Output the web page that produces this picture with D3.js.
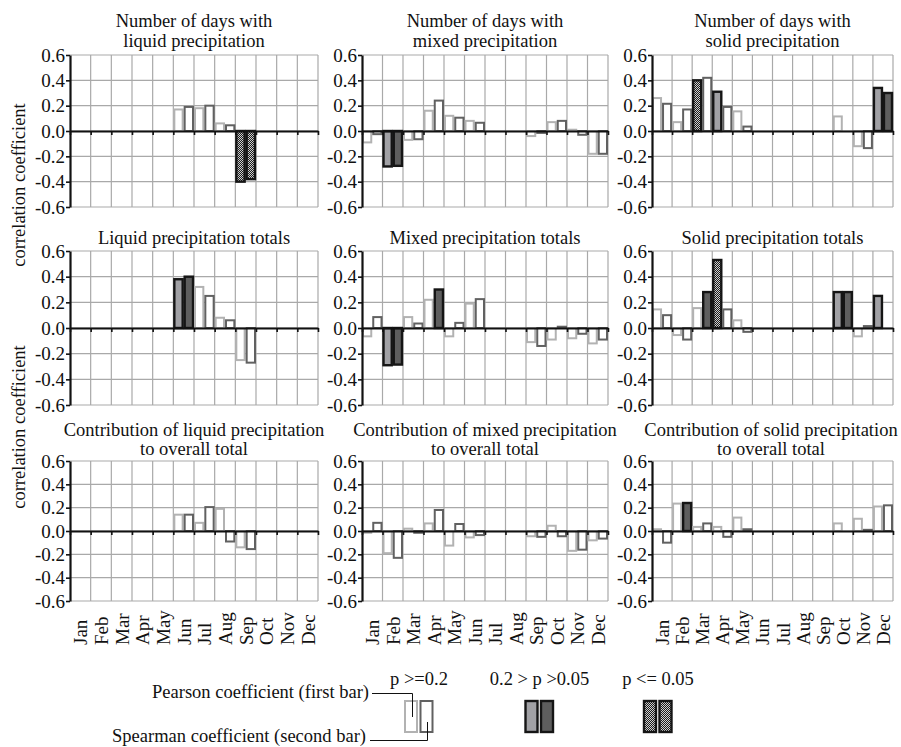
<!DOCTYPE html>
<html lang="en">
<head>
<meta charset="UTF-8">
<script src="https://d3js.org/d3.v7.min.js"></script>
<title>Correlation coefficients</title>
<style>
  body { margin: 0; background: #fff; }
  text { font-family: 'Liberation Serif', 'Times New Roman', serif; fill: #111; }
</style>
</head>
<body>
<div id="chart"></div>
<script>

const months = ["Jan", "Feb", "Mar", "Apr", "May", "Jun", "Jul", "Aug", "Sep", "Oct", "Nov", "Dec"]
const series = ["pearson", "spearman"]
const yTicks = [-0.6, -0.4, -0.2, 0, 0.2, 0.4, 0.6]

const panelTitles = [
    ["Number of days with", "liquid precipitation"],
    ["Number of days with", "mixed precipitation"],
    ["Number of days with", "solid precipitation"],
    ["Liquid precipitation totals"],
    ["Mixed precipitation totals"],
    ["Solid precipitation totals"],
    ["Contribution of liquid precipitation", "to overall total"],
    ["Contribution of mixed precipitation", "to overall total"],
    ["Contribution of solid precipitation", "to overall total"]
]

// first bar of each month, one row per panel (null = no bar)
const pearson = [
    [null, null, null, null, null, 0.17, 0.18, 0.06, -0.40, null, null, null],
    [-0.09, -0.28, -0.07, 0.16, 0.12, 0.08, null, null, -0.04, 0.07, 0.01, -0.18],
    [0.26, 0.07, 0.40, 0.31, 0.155, null, null, null, null, 0.115, -0.12, 0.34],
    [null, null, null, null, null, 0.38, 0.32, 0.08, -0.25, null, null, null],
    [-0.065, -0.29, 0.085, 0.22, -0.065, 0.19, null, null, -0.11, -0.09, -0.08, -0.12],
    [0.145, -0.055, 0.155, 0.53, 0.06, null, null, null, null, 0.28, -0.065, 0.25],
    [null, null, null, null, null, 0.14, 0.07, 0.19, -0.14, null, null, null],
    [-0.015, -0.19, 0.02, 0.065, -0.125, -0.055, null, null, -0.045, 0.045, -0.17, -0.08],
    [0.015, 0.235, 0.035, 0.035, 0.115, null, null, null, null, 0.065, 0.105, 0.21]
]

// second bar of each month
const spearman = [
    [null, null, null, null, null, 0.19, 0.20, 0.045, -0.38, null, null, null],
    [-0.025, -0.275, -0.065, 0.24, 0.105, 0.065, null, null, -0.015, 0.08, -0.03, -0.18],
    [0.215, 0.17, 0.42, 0.19, 0.035, null, null, null, null, null, -0.135, 0.30],
    [null, null, null, null, null, 0.40, 0.25, 0.06, -0.27, null, null, null],
    [0.085, -0.285, 0.035, 0.30, 0.04, 0.225, null, null, -0.14, 0.01, -0.045, -0.09],
    [0.10, -0.09, 0.28, 0.145, -0.03, null, null, null, null, 0.28, 0.015, null],
    [null, null, null, null, null, 0.14, 0.205, -0.09, -0.155, null, null, null],
    [0.07, -0.23, -0.015, 0.18, 0.06, -0.035, null, null, -0.05, -0.045, -0.16, -0.065],
    [-0.10, 0.24, 0.065, -0.05, 0.015, null, null, null, null, null, 0.01, 0.22]
]

// significance: 0 = p >= 0.2, 1 = 0.2 > p > 0.05, 2 = p <= 0.05
const pearsonSig = [
    [0, 0, 0, 0, 0, 0, 0, 0, 2, 0, 0, 0],
    [0, 1, 0, 0, 0, 0, 0, 0, 0, 0, 0, 0],
    [0, 0, 2, 1, 0, 0, 0, 0, 0, 0, 0, 1],
    [0, 0, 0, 0, 0, 1, 0, 0, 0, 0, 0, 0],
    [0, 1, 0, 0, 0, 0, 0, 0, 0, 0, 0, 0],
    [0, 0, 0, 2, 0, 0, 0, 0, 0, 1, 0, 1],
    [0, 0, 0, 0, 0, 0, 0, 0, 0, 0, 0, 0],
    [0, 0, 0, 0, 0, 0, 0, 0, 0, 0, 0, 0],
    [0, 0, 0, 0, 0, 0, 0, 0, 0, 0, 0, 0]
]
const spearmanSig = [
    [0, 0, 0, 0, 0, 0, 0, 0, 2, 0, 0, 0],
    [0, 1, 0, 0, 0, 0, 0, 0, 0, 0, 0, 0],
    [0, 0, 0, 0, 0, 0, 0, 0, 0, 0, 0, 1],
    [0, 0, 0, 0, 0, 1, 0, 0, 0, 0, 0, 0],
    [0, 1, 0, 1, 0, 0, 0, 0, 0, 0, 0, 0],
    [0, 0, 1, 0, 0, 0, 0, 0, 0, 1, 0, 0],
    [0, 0, 0, 0, 0, 0, 0, 0, 0, 0, 0, 0],
    [0, 0, 0, 0, 0, 0, 0, 0, 0, 0, 0, 0],
    [0, 1, 0, 0, 0, 0, 0, 0, 0, 0, 0, 0]
]

const legendLabels = ["p >=0.2", "0.2 > p >0.05", "p <= 0.05"]

// layout
const width = 901, height = 747
const colLeft = [70, 362, 652], colRight = [318, 608, 893]
const rowTop = [55, 251, 461], rowBottom = [207, 405, 601]
const titleBase = [[27, 47], [244], [436, 455]]
const fs = 19, titleFs = 18.5

const strokeCol = { pearson: "#b2b2b2", spearman: "#616161" }
const sigFill = { pearson: "#a1a1a5", spearman: "#5e5e5e" }

function barFill(s, sig) { return sig === 2 ? "url(#chk)" : sig === 1 ? sigFill[s] : "#fff" }
function barStroke(s, sig) { return sig === 0 ? strokeCol[s] : "#151515" }

let svg = d3.select("#chart").append("svg").attr("width", width).attr("height", height)

let pat = svg.append("defs").append("pattern").attr("id", "chk")
    .attr("width", 2).attr("height", 2).attr("patternUnits", "userSpaceOnUse")
pat.append("rect").attr("width", 2).attr("height", 2).attr("fill", "#1c1c1c")
pat.append("rect").attr("width", 1).attr("height", 1).attr("fill", "#cfcfcf")
pat.append("rect").attr("x", 1).attr("y", 1).attr("width", 1).attr("height", 1).attr("fill", "#cfcfcf")

panelTitles.forEach((title, i) => {
    let r = Math.floor(i / 3), c = i % 3
    let x = d3.scaleBand().domain(months).range([colLeft[c], colRight[c]])
    let xs = d3.scaleBand().domain(series).range([0, x.bandwidth()])
    let xb = d3.scaleLinear().domain([0, 12]).range([colLeft[c], colRight[c]])
    let y = d3.scaleLinear().domain([-0.6, 0.6]).range([rowBottom[r], rowTop[r]])
    let g = svg.append("g")

    // grid
    g.append("g").selectAll("line").data(yTicks).enter().append("line")
        .attr("x1", colLeft[c]).attr("x2", colRight[c])
        .attr("y1", d => y(d)).attr("y2", d => y(d))
        .attr("stroke", "#a9a9a9").attr("stroke-width", 1.2)
    g.append("g").selectAll("line").data(d3.range(1, 13)).enter().append("line")
        .attr("x1", d => xb(d)).attr("x2", d => xb(d))
        .attr("y1", y(0.6)).attr("y2", y(-0.6))
        .attr("stroke", "#a9a9a9").attr("stroke-width", 1.2)

    // bars
    let bars = []
    months.forEach((m, k) => {
        bars.push({ m: m, s: "pearson", v: pearson[i][k], sig: pearsonSig[i][k] })
        bars.push({ m: m, s: "spearman", v: spearman[i][k], sig: spearmanSig[i][k] })
    })
    g.append("g").selectAll("rect").data(bars.filter(d => d.v !== null)).enter().append("rect")
        .attr("x", d => x(d.m) + xs(d.s) + 1)
        .attr("width", xs.bandwidth() - 2)
        .attr("y", d => y(Math.max(d.v, 0)))
        .attr("height", d => Math.abs(y(d.v) - y(0)))
        .attr("fill", d => barFill(d.s, d.sig))
        .attr("stroke", d => barStroke(d.s, d.sig))
        .attr("stroke-width", d => d.sig === 0 ? 2 : 2.4)

    // zero line with month boundary ticks
    let xAxis = g.append("g").attr("transform", `translate(0,${y(0)})`)
        .call(d3.axisBottom(xb).ticks(12).tickSize(4).tickSizeOuter(0).tickFormat(""))
    xAxis.select(".domain").attr("stroke", "#111").attr("stroke-width", 2.2)
    xAxis.selectAll(".tick line").attr("stroke", "#111").attr("stroke-width", 1.6)

    let yAxis = g.append("g").attr("transform", `translate(${colLeft[c]},0)`)
        .call(d3.axisLeft(y).tickValues(yTicks).tickSize(4).tickSizeOuter(0).tickPadding(1)
            .tickFormat(d => d.toFixed(1)))
    yAxis.select(".domain").attr("stroke", "#111").attr("stroke-width", 2.2)
    yAxis.selectAll(".tick line").attr("stroke", "#111").attr("stroke-width", 1.6)
    yAxis.selectAll("text").style("font-size", fs + "px")
        .style("font-family", "'Liberation Serif', 'Times New Roman', serif").attr("fill", "#111")

    // title
    title.forEach((t, j) => {
        g.append("text").attr("x", (colLeft[c] + colRight[c]) / 2 - (c === 2 && r === 2 ? 1.5 : 0))
            .attr("y", titleBase[r][j])
            .attr("text-anchor", "middle").style("font-size", titleFs + "px").text(t)
    })

    // month labels on bottom row
    if (r === 2) {
        g.append("g").selectAll("text").data(months).enter().append("text")
            .attr("transform", d => `translate(${x(d) + x.bandwidth() / 2 + 7},645) rotate(-90)`)
            .attr("text-anchor", "start").style("font-size", fs + "px").text(d => d)
    }
})

// y axis titles
;[185, 427].forEach(cy => {
    svg.append("text").attr("transform", `translate(25,${cy}) rotate(-90)`)
        .attr("text-anchor", "middle").style("font-size", titleFs + "px").text("correlation coefficient")
})

// legend
let legendX = [419, 539.5, 658]
let lg = svg.append("g")
legendLabels.forEach((t, i) => {
    lg.append("text").attr("x", legendX[i]).attr("y", 685).attr("text-anchor", "middle")
        .style("font-size", titleFs + "px").text(t)
    series.forEach((s, j) => {
        lg.append("rect").attr("x", legendX[i] - 14 + j * 15.5).attr("y", 701)
            .attr("width", 12).attr("height", 31)
            .attr("fill", barFill(s, i)).attr("stroke", barStroke(s, i))
            .attr("stroke-width", i === 0 ? 2 : 2.4)
    })
})
lg.append("text").attr("x", 369).attr("y", 698).attr("text-anchor", "end")
    .style("font-size", titleFs + "px").text("Pearson coefficient (first bar)")
lg.append("text").attr("x", 366).attr("y", 742).attr("text-anchor", "end")
    .style("font-size", titleFs + "px").text("Spearman coefficient (second bar)")
lg.append("path").attr("d", "M372,693.5H412.5V717").attr("fill", "none").attr("stroke", "#111").attr("stroke-width", 1)
lg.append("path").attr("d", "M370,740.5H427.5V722").attr("fill", "none").attr("stroke", "#111").attr("stroke-width", 1)

</script>
</body>
</html>
